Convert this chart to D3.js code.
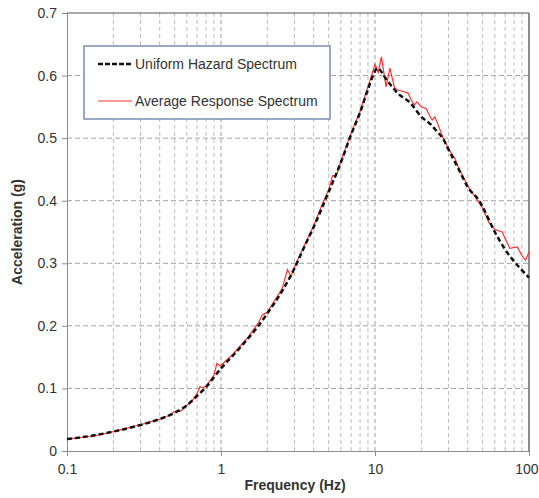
<!DOCTYPE html>
<html><head><meta charset="utf-8">
<script src="https://cdn.jsdelivr.net/npm/d3@7"></script>
<style>body{margin:0;background:#fff}svg{display:block}text{font-family:"Liberation Sans",Arial,sans-serif;fill:#333}</style>
</head><body>
<svg id="c" width="539" height="498"></svg>
<script>
const uhsFreq = [0.1,0.15,0.2,0.3,0.4,0.5,0.6,0.7,0.8,0.9,1.0,1.2,1.5,1.75,2.0,2.5,3.0,3.5,4.0,5.0,6.0,7.0,8.0,9.0,10.0,10.3,12,14,17,20,23,25,28,30,35,40,48,50,60,70,80,90,100];
const uhsVal  = [0.019,0.025,0.031,0.0415,0.051,0.061,0.073,0.088,0.102,0.118,0.132,0.153,0.180,0.200,0.220,0.256,0.292,0.328,0.358,0.414,0.461,0.506,0.541,0.578,0.607,0.612,0.592,0.572,0.556,0.534,0.522,0.512,0.497,0.482,0.450,0.422,0.398,0.390,0.350,0.322,0.303,0.289,0.277];
const avgFreq = [0.1,0.15,0.2,0.3,0.4,0.45,0.5,0.55,0.6,0.65,0.7,0.73,0.76,0.8,0.9,0.94,0.98,1.0,1.2,1.5,1.75,1.85,2.0,2.5,2.7,2.85,3.0,3.5,4.0,4.5,5.0,5.3,5.6,6.0,7.0,8.0,9.0,10.0,10.5,11.0,11.8,12.5,13.4,14.0,15.0,16.4,17.2,18.0,18.7,20,21.5,22.5,23.5,24.5,26,28,30,33,35,40,45,50,55,60,67,75,84,90,95,100];
const avgVal  = [0.019,0.024,0.031,0.042,0.051,0.056,0.063,0.064,0.073,0.080,0.092,0.103,0.101,0.104,0.121,0.140,0.136,0.137,0.155,0.182,0.205,0.217,0.222,0.260,0.290,0.279,0.294,0.330,0.360,0.392,0.417,0.440,0.440,0.463,0.508,0.543,0.582,0.618,0.605,0.630,0.582,0.612,0.580,0.577,0.575,0.572,0.561,0.553,0.558,0.550,0.547,0.537,0.529,0.534,0.518,0.497,0.483,0.468,0.452,0.424,0.405,0.388,0.365,0.354,0.350,0.324,0.326,0.312,0.305,0.318];
const yTicks = [0,0.1,0.2,0.3,0.4,0.5,0.6,0.7];
const xMajor = [0.1,1,10,100];
const xTickLabels = ["0.1","1","10","100"];
const seriesNames = ["Uniform Hazard Spectrum","Average Response Spectrum"];

const svg = d3.select("#c");
const L=67, R=529, T=13, B=451;
const x = d3.scaleLog().domain([0.1,100]).range([L,R]);
const y = d3.scaleLinear().domain([0,0.7]).range([B,T]);

// minor vertical grid
const minors=[];
[0.1,1,10].forEach(d=>{for(let k=2;k<=9;k++)minors.push(d*k);});
svg.append("g").selectAll("line").data(minors).join("line")
  .attr("x1",d=>x(d)).attr("x2",d=>x(d)).attr("y1",T).attr("y2",B)
  .attr("stroke","#bdbdbd").attr("stroke-width",1).attr("stroke-dasharray","4,3");
svg.append("g").selectAll("line").data([1,10]).join("line")
  .attr("x1",d=>x(d)).attr("x2",d=>x(d)).attr("y1",T).attr("y2",B)
  .attr("stroke","#a0a0a0").attr("stroke-width",1).attr("stroke-dasharray","4,3");
// horizontal grid
svg.append("g").selectAll("line").data(yTicks.slice(1,-1)).join("line")
  .attr("x1",L).attr("x2",R).attr("y1",d=>y(d)).attr("y2",d=>y(d))
  .attr("stroke","#a0a0a0").attr("stroke-width",1).attr("stroke-dasharray","5,3");

// axes
const yAxis = d3.axisLeft(y).tickValues(yTicks).tickFormat(d3.format("")).tickSize(5).tickPadding(5);
const gy = svg.append("g").attr("transform",`translate(${L},0)`).call(yAxis);
gy.select(".domain").attr("stroke","#8c8c8c");
gy.selectAll(".tick line").attr("stroke","#8c8c8c");
gy.selectAll("text").attr("font-size",14).style("fill","#333").attr("font-family","Liberation Sans, Arial");
const xAxis = d3.axisBottom(x).tickValues(xMajor).tickFormat((d,i)=>xTickLabels[i]).tickSize(5).tickPadding(8);
const gx = svg.append("g").attr("transform",`translate(0,${B})`).call(xAxis);
gx.select(".domain").attr("stroke","#8c8c8c");
gx.selectAll(".tick line").attr("stroke","#8c8c8c");
gx.selectAll("text").attr("font-size",14).style("fill","#333").attr("font-family","Liberation Sans, Arial");
gx.selectAll(".tick text").filter(d=>d===100).attr("text-anchor","end").attr("dx","9");

// top and right borders
svg.append("line").attr("x1",L).attr("x2",R).attr("y1",T).attr("y2",T).attr("stroke","#555").attr("stroke-width",1.2);
svg.append("line").attr("x1",R).attr("x2",R).attr("y1",T).attr("y2",B).attr("stroke","#666").attr("stroke-width",1.5);

const lineLin = d3.line().x(d=>x(d[0])).y(d=>y(d[1]));
const lineSmooth = d3.line().x(d=>x(d[0])).y(d=>y(d[1])).curve(d3.curveMonotoneX);
svg.append("path").datum(avgFreq.map((f,i)=>[f,avgVal[i]])).attr("d",lineLin)
  .attr("fill","none").attr("stroke","#ff3333").attr("stroke-width",1.2);
svg.append("path").datum(uhsFreq.map((f,i)=>[f,uhsVal[i]])).attr("d",lineSmooth)
  .attr("fill","none").attr("stroke","#111").attr("stroke-width",2.5).attr("stroke-dasharray","5,3");

// legend
const lg = svg.append("g");
lg.append("rect").attr("x",84).attr("y",46).attr("width",246).attr("height",73)
  .attr("fill","#fff").attr("stroke","#7b8fb0").attr("stroke-width",1.5);
lg.append("line").attr("x1",98).attr("x2",132).attr("y1",64).attr("y2",64)
  .attr("stroke","#111").attr("stroke-width",2.5).attr("stroke-dasharray","5,2");
lg.append("line").attr("x1",98).attr("x2",132).attr("y1",101).attr("y2",101)
  .attr("stroke","#ff3333").attr("stroke-width",1.2);
lg.append("text").attr("x",135).attr("y",69).attr("font-size",14).text(seriesNames[0]);
lg.append("text").attr("x",135).attr("y",106).attr("font-size",14).text(seriesNames[1]);

// axis titles
svg.append("text").attr("x",295).attr("y",490).attr("text-anchor","middle")
  .attr("font-size",14).attr("font-weight","bold").text("Frequency (Hz)");
svg.append("text").attr("transform",`translate(22,${(T+B)/2}) rotate(-90)`).attr("text-anchor","middle")
  .attr("font-size",14).attr("font-weight","bold").text("Acceleration (g)");
</script>
</body></html>
